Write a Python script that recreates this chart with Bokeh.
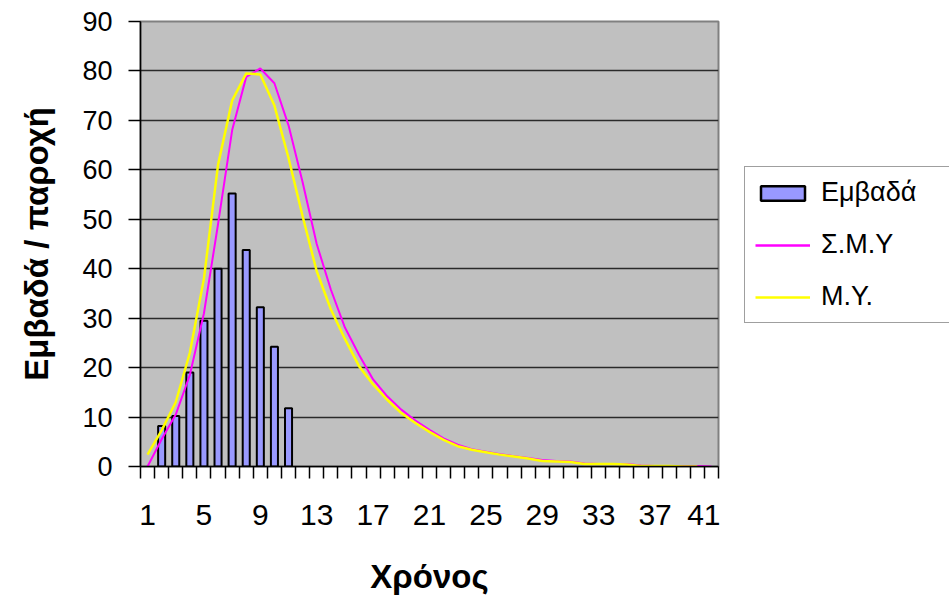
import numpy as np
from bokeh.plotting import figure
from bokeh.layouts import row
from bokeh.models import Range1d, FixedTicker, Legend, LegendItem
from bokeh.embed import file_html
from bokeh.resources import INLINE

# ---- data ----
years = list(range(1, 42))
x_tick_labels = list(range(1, 42, 4))
y_ticks = list(range(0, 91, 10))

bar_years = [2, 3, 4, 5, 6, 7, 8, 9, 10, 11]
areas = [8.2, 10.2, 19.0, 29.5, 40.0, 55.2, 43.8, 32.2, 24.2, 11.8]

smy = [0.0, 5.5, 10.5, 18.5, 31.0, 49.0, 68.0, 78.8, 80.5, 77.5,
       69.0, 57.5, 45.0, 35.8, 28.1, 22.6, 17.6, 14.2, 11.5, 9.3,
       7.4, 5.7, 4.4, 3.5, 3.0, 2.5, 2.1, 1.7, 1.3, 1.1,
       1.0, 0.6, 0.5, 0.5, 0.5, 0.2, 0.1, 0.1, 0.1, 0.1, 0.0]

my = [2.4, 7.3, 13.0, 23.0, 38.0, 61.0, 74.0, 79.5, 79.3, 73.0,
      62.4, 50.6, 39.5, 31.8, 25.8, 20.3, 16.6, 13.5, 10.8, 8.8,
      7.0, 5.4, 4.1, 3.4, 2.9, 2.4, 2.0, 1.6, 1.1, 1.0,
      0.9, 0.5, 0.5, 0.5, 0.4, 0.1, 0.1, 0.1, 0.0, 0.0, np.nan]

legend_labels = ["Εμβαδά", "Σ.Μ.Υ", "Μ.Υ."]

FONT = "Liberation Sans"
BAR_FILL = "#9999FF"
C_SMY = "#FF00FF"
C_MY = "#FFFF00"

p = figure(width=720, height=599, output_backend="svg", toolbar_location=None,
           x_range=Range1d(0.5, 41.5), y_range=Range1d(0, 90),
           min_border_left=140, min_border_right=2, min_border_top=21,
           min_border_bottom=133)
p.background_fill_color = "#C0C0C0"
p.border_fill_color = "white"
p.outline_line_color = "#808080"
p.outline_line_width = 2

# x axis
p.xaxis.ticker = FixedTicker(ticks=x_tick_labels,
                             minor_ticks=[i + 0.5 for i in range(0, 42)])
p.xaxis.major_tick_out = 0
p.xaxis.major_tick_in = 0
p.xaxis.minor_tick_out = 12
p.xaxis.minor_tick_in = 0
p.xaxis.minor_tick_line_color = "black"
p.xaxis.minor_tick_line_width = 1.5
p.xaxis.axis_line_color = "black"
p.xaxis.axis_line_width = 1.5
p.xaxis.major_label_standoff = 26
p.xaxis.major_label_text_font = FONT
p.xaxis.major_label_text_font_size = "30px"
p.xaxis.major_label_text_color = "black"
p.xaxis.axis_label = "Χρόνος"
p.xaxis.axis_label_text_font = FONT
p.xaxis.axis_label_text_font_size = "33px"
p.xaxis.axis_label_text_font_style = "bold"
p.xaxis.axis_label_text_color = "black"
p.xaxis.axis_label_standoff = 30

# y axis
p.yaxis.ticker = FixedTicker(ticks=y_ticks)
p.yaxis.major_tick_out = 12
p.yaxis.major_tick_in = 0
p.yaxis.minor_tick_out = 0
p.yaxis.minor_tick_in = 0
p.yaxis.major_tick_line_color = "black"
p.yaxis.major_tick_line_width = 1.5
p.yaxis.axis_line_color = "black"
p.yaxis.axis_line_width = 1.5
p.yaxis.major_label_standoff = 16
p.yaxis.major_label_text_font = FONT
p.yaxis.major_label_text_font_size = "27px"
p.yaxis.major_label_text_color = "black"
p.yaxis.axis_label = "Εμβαδά / παροχή"
p.yaxis.axis_label_text_font = FONT
p.yaxis.axis_label_text_font_size = "33px"
p.yaxis.axis_label_text_font_style = "bold"
p.yaxis.axis_label_text_color = "black"
p.yaxis.axis_label_standoff = 24

p.xgrid.visible = False
p.ygrid.ticker = FixedTicker(ticks=y_ticks)
p.ygrid.grid_line_color = "#2a2a2a"
p.ygrid.grid_line_width = 1.5

p.vbar(x=bar_years, top=areas, width=0.5, fill_color=BAR_FILL,
       line_color="black", line_width=2)
p.line(years, smy, line_color=C_SMY, line_width=2)
p.line(years, np.array(my, dtype=float), line_color=C_MY, line_width=2.5)

# ---- legend panel (separate figure to the right) ----
q = figure(width=229, height=599, output_backend="svg", toolbar_location=None,
           x_axis_type=None, y_axis_type=None,
           x_range=Range1d(0, 1), y_range=Range1d(0, 1),
           min_border_left=0, min_border_right=0, min_border_top=0,
           min_border_bottom=0)
q.grid.visible = False
q.outline_line_color = None
q.background_fill_color = "white"
q.border_fill_color = "white"
rb = q.vbar(x=[np.nan], top=[np.nan], width=0.5, fill_color=BAR_FILL,
            line_color="black", line_width=2.5)
r1 = q.line([np.nan], [np.nan], line_color=C_SMY, line_width=2.5)
r2 = q.line([np.nan], [np.nan], line_color=C_MY, line_width=2.5)

legend = Legend(items=[LegendItem(label=legend_labels[0], renderers=[rb]),
                       LegendItem(label=legend_labels[1], renderers=[r1]),
                       LegendItem(label=legend_labels[2], renderers=[r2])],
                location=(24, 143))
legend.label_text_font = FONT
legend.label_text_font_size = "27px"
legend.label_text_color = "black"
legend.glyph_width = 55
legend.glyph_height = 18
legend.label_height = 26
legend.label_width = 118
legend.spacing = 21
legend.padding = 10
legend.margin = 0
legend.label_standoff = 11
legend.border_line_color = "#404040"
legend.border_line_width = 1.5
legend.background_fill_color = "white"
legend.background_fill_alpha = 1.0
q.add_layout(legend)

layout = row(p, q)
open("out.html", "w").write(file_html(layout, INLINE))
